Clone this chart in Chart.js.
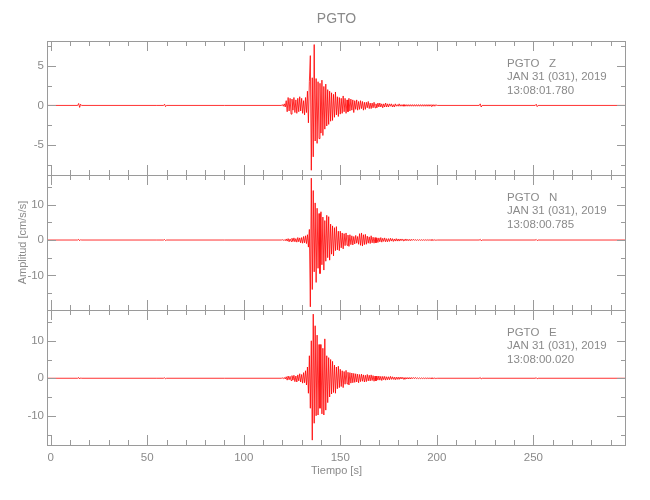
<!DOCTYPE html>
<html>
<head>
<meta charset="utf-8">
<script src="https://cdn.jsdelivr.net/npm/chart.js@4/dist/chart.umd.min.js"></script>
<style>
  html, body { margin: 0; padding: 0; background: #fff; }
  #wrap { position: relative; width: 650px; height: 500px; overflow: hidden; background: #fff; }
  #wrap canvas { position: absolute; left: 0; }
</style>
</head>
<body>
<div id="wrap">
  <canvas id="chartZ" width="650" height="185" style="top:0px"></canvas>
  <canvas id="chartN" width="650" height="155" style="top:165px"></canvas>
  <canvas id="chartE" width="650" height="200" style="top:300px"></canvas>
</div>
<script>
// station / header text
const station = 'PGTO';
const headers = {
  Z: ['PGTO   Z', 'JAN 31 (031), 2019', '13:08:01.780'],
  N: ['PGTO   N', 'JAN 31 (031), 2019', '13:08:00.785'],
  E: ['PGTO   E', 'JAN 31 (031), 2019', '13:08:00.020']
};

// time axis
const xMin = -1.9, xMax = 298;
const xLabels = [0, 50, 100, 150, 200, 250];
const xMinor = [0, 10, 20, 30, 40, 50, 60, 70, 80, 90, 100, 110, 120, 130, 140, 150,
  160, 170, 180, 190, 200, 210, 220, 230, 240, 250, 260, 270, 280, 290];

// amplitude axes (cm/s/s)
const zRange = [-8.8, 8.15], nRange = [-19.8, 18.4], eRange = [-17.8, 18.2];
const zTicks = [-5, 0, 5], nTicks = [-10, 0, 10], eTicks = [-10, 0, 10];
const zMinor = [-7.5, -2.5, 2.5, 7.5], nMinor = [-15, -5, 5, 15], eMinor = [-15, -5, 5, 15];

// quiet background before / after the event (time s, amplitude)
const preT  = [-2, 14, 14.5, 15, 15.5, 16, 55, 58.5, 59, 59.5, 60, 90, 119.5];
const zPre  = [0, 0, 0.25, -0.25, 0.15, 0, 0, 0, 0.15, -0.15, 0, 0, 0];
const nPre  = [0, 0, 0.2, -0.2, 0.1, 0, 0, 0, 0.15, -0.15, 0, 0, 0];
const ePre  = [0, 0, 0.2, -0.2, 0.1, 0, 0, 0, 0.15, -0.15, 0, 0, 0];
const postT = [200.5, 222, 222.5, 223, 223.5, 251, 251.5, 252, 252.5, 298];
const zPost = [0, 0, 0.2, -0.2, 0, 0, 0.15, -0.15, 0, 0];
const nPost = [0, 0, 0.2, -0.2, 0, 0, 0.15, -0.15, 0, 0];
const ePost = [0, 0, 0.2, -0.2, 0, 0, 0.15, -0.15, 0, 0];

// event window, one sample every 0.5 s from 120 s
const burstStart = 120, burstStep = 0.5;
const zBurst = [
  0.1,-0.1,0.2,-0.2,0.6,-0.8,1.0,-0.7,0.9,-1.1,
  0.8,-0.6,1.0,-0.9,0.7,-1.0,0.9,-0.8,1.1,-0.7,
  0.9,-1.0,0.6,-1.2,1.0,-0.9,1.8,-2.2,3.0,6.3,
  -8.2,3.5,-6.5,7.7,-4.5,3.4,-4.8,3.0,-4.2,2.8,
  -3.5,3.2,-3.8,2.4,-3.0,2.7,-2.6,2.0,-2.4,1.8,
  -2.0,1.6,-1.9,1.4,-1.5,1.7,-1.2,1.1,-1.4,1.0,
  -1.1,0.9,-1.0,1.2,-0.8,0.9,-1.0,0.7,-0.8,0.9,
  -0.7,0.8,-0.6,0.7,-0.9,0.6,-0.5,0.7,-0.6,0.5,
  -0.5,0.6,-0.4,0.5,-0.6,0.4,-0.5,0.4,-0.3,0.5,
  -0.4,0.3,-0.4,0.3,-0.3,0.4,-0.3,0.2,-0.3,0.3,
  -0.2,0.3,-0.2,0.2,-0.3,0.2,-0.2,0.3,-0.2,0.2,
  -0.2,0.2,-0.1,0.2,-0.2,0.1,-0.2,0.2,-0.1,0.1,
  -0.1,0.2,-0.1,0.1,-0.1,0.1,-0.1,0.1,-0.1,0.1,
  -0.1,0.1,-0.1,0.1,-0.1,0.1,-0.1,0.1,-0.1,0.1,
  -0.1,0.1,-0.1,0.1,-0.1,0.1,-0.1,0.1,-0.1,0.1,
  -0.1,0.1,-0.1,0.1,-0.1,0.1,-0.1,0.1,-0.1,0.1,
  0
];
const nBurst = [
  0.1,-0.1,0.1,-0.2,0.3,-0.3,0.4,-0.5,0.3,-0.4,
  0.5,-0.4,0.6,-0.5,0.4,-0.6,0.7,-0.5,0.6,-0.8,
  0.7,-0.9,1.0,-0.8,1.2,-1.0,1.5,-2.0,3.0,-18.9,
  17.5,-14.0,14.0,-9.0,10.5,-12.0,9.0,-8.0,7.5,-9.5,
  8.0,-7.0,6.5,-8.5,5.5,-6.0,7.0,-5.0,6.6,-5.7,
  4.5,-4.0,4.0,-4.5,3.5,-3.0,3.8,-2.8,2.5,-3.0,
  2.5,-2.2,2.0,-2.5,1.8,-1.6,2.0,-1.5,1.4,-1.8,
  1.5,-1.3,1.2,-1.4,1.0,-1.1,1.3,-0.9,1.0,-1.2,
  1.8,-1.5,2.0,-1.7,1.5,-1.3,1.6,-1.2,1.1,-0.9,
  0.9,-1.0,1.2,-0.8,0.8,-0.9,0.7,-0.8,0.6,-0.7,
  0.6,-0.5,0.7,-0.6,0.5,-0.4,0.6,-0.5,0.4,-0.5,
  0.4,-0.4,0.5,-0.3,0.4,-0.4,0.3,-0.3,0.4,-0.3,
  0.3,-0.3,0.3,-0.2,0.3,-0.2,0.2,-0.2,0.3,-0.2,
  0.2,-0.2,0.2,-0.2,0.2,-0.1,0.2,-0.1,0.1,-0.1,
  0.1,-0.1,0.1,-0.1,0.1,-0.1,0.1,-0.1,0.1,-0.1,
  0.1,-0.1,0.1,-0.1,0.1,-0.1,0.1,-0.1,0.1,-0.1,
  0
];
const eBurst = [
  0.1,-0.1,0.2,-0.2,0.4,-0.5,0.6,-0.4,0.5,-0.6,
  0.7,-0.5,0.8,-0.9,0.6,-1.0,0.9,-0.7,1.2,-1.0,
  1.0,-1.3,1.5,-1.2,2.0,-1.8,3.0,-4.0,6.0,-8.0,
  10.0,-16.5,17.1,-12.0,14.0,-10.0,11.5,-9.8,9.0,-8.0,
  9.0,-9.5,8.0,-9.8,10.5,-8.5,6.0,-6.5,5.5,-5.0,
  5.0,-4.2,4.5,-3.8,3.5,-4.0,3.0,-2.8,3.2,-2.5,
  2.4,-2.2,2.0,-2.5,1.8,-1.6,2.1,-1.5,1.6,-1.8,
  1.5,-1.3,1.4,-1.2,1.3,-1.1,1.2,-1.0,1.1,-1.2,
  1.0,-0.9,1.1,-0.8,0.9,-1.0,0.8,-0.9,1.0,-0.7,
  0.8,-0.7,0.9,-0.6,0.7,-0.8,0.6,-0.7,0.6,-0.5,
  0.6,-0.5,0.5,-0.6,0.5,-0.4,0.5,-0.5,0.4,-0.4,
  0.4,-0.4,0.5,-0.3,0.4,-0.3,0.3,-0.4,0.3,-0.3,
  0.3,-0.3,0.3,-0.2,0.3,-0.2,0.2,-0.3,0.2,-0.2,
  0.2,-0.2,0.2,-0.2,0.2,-0.1,0.2,-0.1,0.2,-0.1,
  0.1,-0.1,0.1,-0.1,0.1,-0.1,0.1,-0.1,0.1,-0.1,
  0.1,-0.1,0.1,-0.1,0.1,-0.1,0.1,-0.1,0.1,-0.1,
  0
];

const axisGray = '#9a9a9a';
const textGray = '#8a8a8a';
const traceRed = 'rgba(255,0,0,0.9)';
const narrow = "'Liberation Sans Narrow', 'Liberation Sans', sans-serif";
const sans = "'Liberation Sans', 'DejaVu Sans', sans-serif";

function trace(pre, burst, post) {
  const pts = preT.map((t, i) => ({x: t, y: pre[i]}));
  burst.forEach((v, i) => pts.push({x: burstStart + i * burstStep, y: v}));
  postT.forEach((t, i) => pts.push({x: t, y: post[i]}));
  return pts;
}

// box with inward ticks + header text, IDL style
const framePlugin = {
  id: 'frame',
  afterDatasetsDraw(chart, args, opts) {
    const {ctx, chartArea: a, scales: {x, y}} = chart;
    ctx.save();
    ctx.strokeStyle = axisGray;
    ctx.lineWidth = 1;
    ctx.strokeRect(a.left + 0.5, a.top + 0.5, a.right - a.left - 1, a.bottom - a.top);
    ctx.beginPath();
    for (const v of xMinor) {
      const px = Math.round(x.getPixelForValue(v)) + 0.5;
      const len = xLabels.includes(v) ? 10 : 5;
      ctx.moveTo(px, a.top); ctx.lineTo(px, a.top + len);
      ctx.moveTo(px, a.bottom); ctx.lineTo(px, a.bottom - len);
    }
    const yAll = opts.major.map(v => [v, 9]).concat(opts.minor.map(v => [v, 5]));
    for (const [v, len] of yAll) {
      const py = Math.round(y.getPixelForValue(v)) + 0.5;
      ctx.moveTo(a.left, py); ctx.lineTo(a.left + len, py);
      ctx.moveTo(a.right, py); ctx.lineTo(a.right - len, py);
    }
    ctx.stroke();
    ctx.fillStyle = textGray;
    ctx.font = "11.5px " + sans;
    ctx.textBaseline = 'alphabetic';
    ctx.textAlign = 'left';
    opts.lines.forEach((s, i) => ctx.fillText(s, a.right - 119, a.top + 25.5 + i * 13.8));
    ctx.restore();
  }
};

function makeChart(id, data, range, ticks, minor, lines, extra) {
  const showX = !!extra.showX;
  const cfg = {
    type: 'line',
    data: {datasets: [{data: data, borderColor: traceRed, borderWidth: 0.9, pointRadius: 0, tension: 0, fill: false}]},
    options: {
      responsive: false,
      animation: false,
      events: [],
      layout: {padding: extra.padding},
      plugins: {
        legend: {display: false},
        tooltip: {enabled: false},
        title: extra.title || {display: false},
        frame: {major: ticks, minor: minor, lines: lines}
      },
      scales: {
        x: {
          type: 'linear', min: xMin, max: xMax, display: showX,
          afterBuildTicks: s => { s.ticks = xLabels.map(v => ({value: v})); },
          afterFit: s => { if (showX) s.height = 42; },
          grid: {display: false, drawTicks: false},
          border: {display: false},
          ticks: {color: textGray, padding: 6, maxRotation: 0, font: {family: narrow, size: 11.5}},
          title: {display: showX, text: 'Tiempo [s]', color: textGray, padding: {top: 2, bottom: 9}, font: {family: sans, size: 11}}
        },
        y: {
          type: 'linear', min: range[0], max: range[1],
          afterBuildTicks: s => { s.ticks = ticks.map(v => ({value: v})); },
          afterFit: s => { s.width = 47; },
          grid: {display: false, drawTicks: false},
          border: {display: false},
          ticks: {color: textGray, padding: 3, font: {family: narrow, size: 11.5}},
          title: extra.yTitle || {display: false}
        }
      }
    },
    plugins: [framePlugin]
  };
  return new Chart(document.getElementById(id), cfg);
}

makeChart('chartZ', trace(zPre, zBurst, zPost), zRange, zTicks, zMinor, headers.Z, {
  padding: {top: 0, bottom: 10, left: 0, right: 24},
  title: {display: true, text: station, color: textGray, fullSize: false,
          font: {family: narrow, size: 14, weight: 'normal'}, padding: {top: 11.2, bottom: 13}}
});
makeChart('chartN', trace(nPre, nBurst, nPost), nRange, nTicks, nMinor, headers.N, {
  padding: {top: 10, bottom: 10, left: 0, right: 24},
  yTitle: {display: true, text: 'Amplitud [cm/s/s]', color: textGray, padding: {top: 16, bottom: 0},
           font: {family: sans, size: 11}}
});
makeChart('chartE', trace(ePre, eBurst, ePost), eRange, eTicks, eMinor, headers.E, {
  padding: {top: 10, bottom: 13, left: 0, right: 24},
  showX: true
});
</script>
</body>
</html>
